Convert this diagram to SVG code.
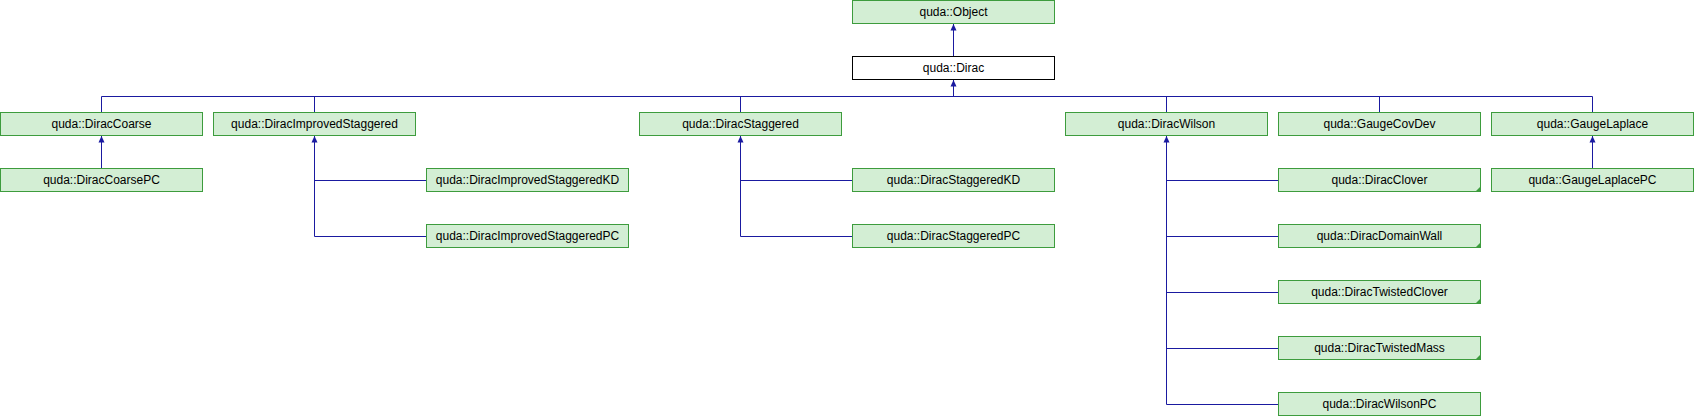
<svg xmlns="http://www.w3.org/2000/svg" width="1694" height="416" viewBox="0 0 1694 416">
<defs>
<style>
.n rect{fill:#d3eed4;stroke:#3d9c3d;stroke-width:1}
.w rect{fill:#ffffff;stroke:#000000;stroke-width:1}
text{font-family:"Liberation Sans",Arial,sans-serif;font-size:12px;fill:#000;text-anchor:middle}
.e path{fill:none;stroke:#1a1aa0;stroke-width:1}
.c{fill:#3d9c3d;stroke:none}
</style>
<marker id="a" viewBox="0 0 8 8" refX="4" refY="0" markerWidth="8" markerHeight="8" orient="0" markerUnits="userSpaceOnUse">
<path d="M4,0 L7,6.5 L1,6.5 Z" fill="#1a1aa0"/>
</marker>
</defs>
<g class="e" id="edges">
<path d="M953.5,56.5 V24" marker-end="url(#a)"/>
<path d="M953.5,96.5 V80" marker-end="url(#a)"/>
<path d="M101.5,112.5 V96.5 H1592.5 V112.5"/>
<path d="M314.5,96.5 V112.5"/>
<path d="M740.5,96.5 V112.5"/>
<path d="M1166.5,96.5 V112.5"/>
<path d="M1379.5,96.5 V112.5"/>
<path d="M101.5,168.5 V136" marker-end="url(#a)"/>
<path d="M1592.5,168.5 V136" marker-end="url(#a)"/>
<path d="M426.5,236.5 H314.5 V136" marker-end="url(#a)"/>
<path d="M314.5,180.5 H426.5"/>
<path d="M852.5,236.5 H740.5 V136" marker-end="url(#a)"/>
<path d="M740.5,180.5 H852.5"/>
<path d="M1278.5,404.5 H1166.5 V136" marker-end="url(#a)"/>
<path d="M1166.5,180.5 H1278.5 M1166.5,236.5 H1278.5 M1166.5,292.5 H1278.5 M1166.5,348.5 H1278.5"/>
</g>
<g class="n" id="Object"><rect x="852.5" y="0.5" width="202" height="23"/><text x="953.5" y="16">quda::Object</text></g>
<g class="w" id="Dirac"><rect x="852.5" y="56.5" width="202" height="23"/><text x="953.5" y="72">quda::Dirac</text></g>
<g class="n" id="DiracCoarse"><rect x="0.5" y="112.5" width="202" height="23"/><text x="101.5" y="128">quda::DiracCoarse</text></g>
<g class="n" id="DiracImprovedStaggered"><rect x="213.5" y="112.5" width="202" height="23"/><text x="314.5" y="128">quda::DiracImprovedStaggered</text></g>
<g class="n" id="DiracStaggered"><rect x="639.5" y="112.5" width="202" height="23"/><text x="740.5" y="128">quda::DiracStaggered</text></g>
<g class="n" id="DiracWilson"><rect x="1065.5" y="112.5" width="202" height="23"/><text x="1166.5" y="128">quda::DiracWilson</text></g>
<g class="n" id="GaugeCovDev"><rect x="1278.5" y="112.5" width="202" height="23"/><text x="1379.5" y="128">quda::GaugeCovDev</text></g>
<g class="n" id="GaugeLaplace"><rect x="1491.5" y="112.5" width="202" height="23"/><text x="1592.5" y="128">quda::GaugeLaplace</text></g>
<g class="n" id="DiracCoarsePC"><rect x="0.5" y="168.5" width="202" height="23"/><text x="101.5" y="184">quda::DiracCoarsePC</text></g>
<g class="n" id="DiracImprovedStaggeredKD"><rect x="426.5" y="168.5" width="202" height="23"/><text x="527.5" y="184">quda::DiracImprovedStaggeredKD</text></g>
<g class="n" id="DiracImprovedStaggeredPC"><rect x="426.5" y="224.5" width="202" height="23"/><text x="527.5" y="240">quda::DiracImprovedStaggeredPC</text></g>
<g class="n" id="DiracStaggeredKD"><rect x="852.5" y="168.5" width="202" height="23"/><text x="953.5" y="184">quda::DiracStaggeredKD</text></g>
<g class="n" id="DiracStaggeredPC"><rect x="852.5" y="224.5" width="202" height="23"/><text x="953.5" y="240">quda::DiracStaggeredPC</text></g>
<g class="n" id="DiracClover"><rect x="1278.5" y="168.5" width="202" height="23"/><path class="c" d="M1481,186 V192 H1475 Z"/><text x="1379.5" y="184">quda::DiracClover</text></g>
<g class="n" id="DiracDomainWall"><rect x="1278.5" y="224.5" width="202" height="23"/><path class="c" d="M1481,242 V248 H1475 Z"/><text x="1379.5" y="240">quda::DiracDomainWall</text></g>
<g class="n" id="DiracTwistedClover"><rect x="1278.5" y="280.5" width="202" height="23"/><path class="c" d="M1481,298 V304 H1475 Z"/><text x="1379.5" y="296">quda::DiracTwistedClover</text></g>
<g class="n" id="DiracTwistedMass"><rect x="1278.5" y="336.5" width="202" height="23"/><path class="c" d="M1481,354 V360 H1475 Z"/><text x="1379.5" y="352">quda::DiracTwistedMass</text></g>
<g class="n" id="DiracWilsonPC"><rect x="1278.5" y="392.5" width="202" height="23"/><text x="1379.5" y="408">quda::DiracWilsonPC</text></g>
<g class="n" id="GaugeLaplacePC"><rect x="1491.5" y="168.5" width="202" height="23"/><text x="1592.5" y="184">quda::GaugeLaplacePC</text></g>
</svg>
